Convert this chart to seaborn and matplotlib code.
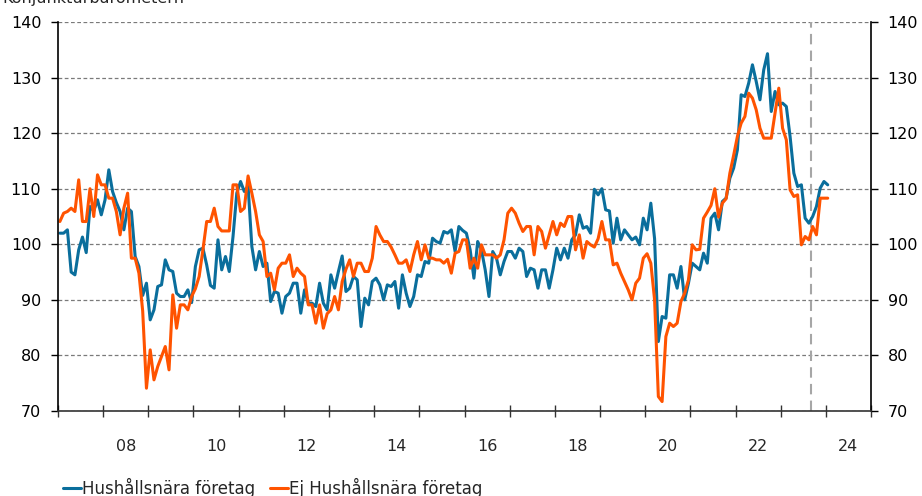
import numpy as np
import pandas as pd
import matplotlib
matplotlib.use('Agg')
import matplotlib.pyplot as plt
import seaborn as sns

# Monthly index values, Jan 2007 - Jan 2024
START_YEAR = 2007

hush = [
    102, 102, 102.6, 95, 94.5, 99, 101.3, 98.5, 106.8, 106, 108, 105.3,            # 2007
    108, 113.4, 109.5, 107.5, 105.9, 102.6, 106.5, 105.9, 97.8, 96, 90.8, 93,       # 2008
    86.4, 88.2, 92.4, 92.7, 97.2, 95.4, 95.1, 91.2, 90.6, 90.6, 91.8, 89.5,         # 2009
    96, 99, 99.3, 96.3, 92.6, 92.1, 100.8, 95.4, 97.8, 95.1, 101.4, 109.2,          # 2010
    111.3, 109.5, 110.5, 99.6, 95.4, 98.7, 96, 96.6, 89.7, 91.5, 91.2, 87.6,        # 2011
    90.6, 91.2, 93, 93, 87.6, 91.8, 89.4, 89.4, 88.8, 93, 89.4, 88.2,               # 2012
    94.5, 92.1, 95.1, 97.9, 91.5, 92.1, 94.2, 93.6, 85.2, 90.3, 89.1, 93.3,         # 2013
    93.9, 92.7, 90, 92.7, 92.4, 93.3, 88.5, 94.5, 91.2, 88.8, 90.6, 94.5,           # 2014
    94.2, 96.9, 96.6, 101.1, 100.5, 100.2, 102.3, 102, 102.6, 98.7, 103.2, 102.5,   # 2015
    102, 99, 93.9, 100.5, 99, 95.4, 90.6, 98.7, 97.5, 94.5, 96.9, 98.7,             # 2016
    98.7, 97.5, 99.3, 98.7, 94.2, 95.7, 95.4, 92.1, 95.4, 95.4, 92.1, 95.4,         # 2017
    99.3, 97.2, 99.3, 97.5, 100.8, 101.7, 105.3, 102.9, 103.2, 102, 109.9, 108.9,   # 2018
    110, 106.2, 106, 100.2, 104.7, 100.8, 102.6, 101.7, 100.8, 101.3, 99.9, 104.7,  # 2019
    102.6, 107.4, 101, 82.5, 87, 86.7, 94.5, 94.5, 92.1, 96, 90, 93,                # 2020
    96.6, 96, 95.4, 98.4, 96.6, 104.7, 105.6, 102.6, 107.7, 108.3, 111.9, 113.7,    # 2021
    117, 126.9, 126.6, 129, 132.3, 129.3, 126, 131.4, 134.3, 123.9, 127.5, 125.1,   # 2022
    125.4, 124.8, 119.4, 112.8, 110.4, 110.7, 104.7, 103.8, 105, 106.8, 110.1, 111.3,  # 2023
    110.7,                                                                           # 2024
]

ej_hush = [
    104.1, 105.6, 105.9, 106.5, 105.9, 111.6, 104.1, 104.1, 110, 105, 112.5, 110.7,   # 2007
    110.7, 108.3, 108.3, 105.9, 101.7, 106.5, 109.2, 97.5, 97.5, 94.8, 88, 74.1,      # 2008
    81, 75.6, 78, 79.8, 81.6, 77.4, 90.9, 84.9, 89.1, 89.1, 88.2, 90.6,               # 2009
    92, 94.2, 99, 104.1, 104.1, 106.5, 103.2, 102.4, 102.4, 102.4, 110.7, 110.7,      # 2010
    105.9, 106.5, 112.3, 109.2, 105.9, 101.7, 100.5, 94.2, 94.8, 91.8, 95.7, 96.6,    # 2011
    96.6, 98.1, 94.2, 95.7, 94.8, 94.2, 89.1, 89.1, 85.8, 89.1, 84.9, 87.5,           # 2012
    88.2, 90.6, 88.2, 93.3, 95.5, 97.2, 94.2, 96.6, 96.6, 95.1, 95.1, 97.5,           # 2013
    103.2, 101.7, 100.5, 100.5, 99.5, 98.1, 96.6, 96.6, 97.2, 95.1, 98.1, 100.5,      # 2014
    97.2, 99.9, 97.5, 97.5, 97.2, 97.2, 96.6, 97.3, 94.8, 98.4, 98.7, 100.8,          # 2015
    100.8, 95.7, 97.5, 95.7, 99.9, 98.1, 98.1, 98.1, 97.5, 98.1, 100.8, 105.6,        # 2016
    106.5, 105.6, 103.8, 102.3, 103.2, 103.2, 98.1, 103.2, 102.3, 99.3, 101.7, 104.1, # 2017
    101.7, 103.8, 103.2, 105, 105, 99, 101.7, 97.5, 100.5, 99.9, 99.5, 101,           # 2018
    104.1, 100.8, 100.8, 96.3, 96.6, 94.8, 93.3, 91.8, 90, 93, 93.9, 97.5,            # 2019
    98.3, 96.6, 90, 72.6, 71.7, 83.4, 85.8, 85.2, 85.8, 89.7, 91.2, 93.6,             # 2020
    99.9, 99, 99.1, 104.7, 105.8, 107, 110, 104.9, 107.4, 108.2, 112.8, 116,          # 2021
    119.4, 121.8, 123, 127.2, 126.3, 124.2, 120.9, 119.1, 119.1, 119.1, 123.6, 128.1, # 2022
    120.9, 118.8, 109.8, 108.6, 108.9, 99.9, 101.4, 100.8, 103.2, 101.7, 108.3, 108.3,  # 2023
    108.3,                                                                             # 2024
]

SERIES = ['Hushållsnära företag', 'Ej Hushållsnära företag']
COLORS = ['#0a6e9c', '#ff5300']
Y_TICKS = [70, 80, 90, 100, 110, 120, 130, 140]
YEAR_TICKS = list(range(2007, 2026))
LABEL_YEARS = [2008, 2010, 2012, 2014, 2016, 2018, 2020, 2022, 2024]
FORECAST_START = 2023 + 8 / 12
TITLE = 'Konjunkturbarometern'


sns.set_theme(style='white')
plt.rcParams['font.family'] = ['DejaVu Sans']

# long format for seaborn, points at mid-month
months = START_YEAR + (np.arange(len(hush)) + 0.5) / 12
df = pd.DataFrame({
    'tid': np.concatenate([months, months]),
    'index': hush + ej_hush,
    'serie': [SERIES[0]] * len(hush) + [SERIES[1]] * len(ej_hush),
})

fig = plt.figure(figsize=(9.22, 4.96), dpi=100)
ax = fig.add_axes([0.0629, 0.1714, 0.8818, 0.7842])

sns.lineplot(data=df, x='tid', y='index', hue='serie',
             palette=dict(zip(SERIES, COLORS)), linewidth=2.2,
             estimator=None, sort=False, ax=ax)

ax.axvline(FORECAST_START, color='#a6a6a6', linestyle=(0, (5, 3)), lw=1.5, zorder=1)

ax.set_xlim(YEAR_TICKS[0], YEAR_TICKS[-1])
ax.set_ylim(Y_TICKS[0], Y_TICKS[-1])
ax.set_xlabel('')
ax.set_ylabel('')

# y axis on both sides
ax.set_yticks(Y_TICKS)
ax.tick_params(axis='y', which='major', direction='out', length=5, width=1,
               left=True, right=True, labelleft=True, labelright=True,
               labelsize=11.5, pad=7, colors='black')
ax.yaxis.grid(True, linestyle=(0, (3, 2)), color='#7a7a7a', lw=0.9)
ax.xaxis.grid(False)

# year ticks at boundaries, labels in the middle of even years
ax.set_xticks(YEAR_TICKS)
ax.set_xticklabels([''] * len(YEAR_TICKS))
ax.set_xticks([y + 0.5 for y in LABEL_YEARS], minor=True)
ax.set_xticklabels([f'{y % 100:02d}' for y in LABEL_YEARS], minor=True)
ax.tick_params(axis='x', which='major', direction='inout', length=9, width=1,
               bottom=True, color='#333333')
ax.tick_params(axis='x', which='minor', length=0, pad=20, labelsize=11.5)

for side in ['left', 'right']:
    ax.spines[side].set_color('black')
    ax.spines[side].set_linewidth(1.2)
ax.spines['bottom'].set_color('#333333')
ax.spines['bottom'].set_linewidth(1.2)
ax.spines['top'].set_visible(False)

# legend at the bottom of the figure
handles, labels = ax.get_legend_handles_labels()
ax.get_legend().remove()
fig.legend(handles, labels, loc='center left', bbox_to_anchor=(0.068, 0.017),
           ncol=2, frameon=False, fontsize=12, handlelength=1.1,
           handletextpad=0.05, columnspacing=0.9, borderpad=0, borderaxespad=0)

fig.text(0.003, 0.994, TITLE, fontsize=11.5, ha='left', va='baseline')

fig.savefig('out.png', dpi=100)
